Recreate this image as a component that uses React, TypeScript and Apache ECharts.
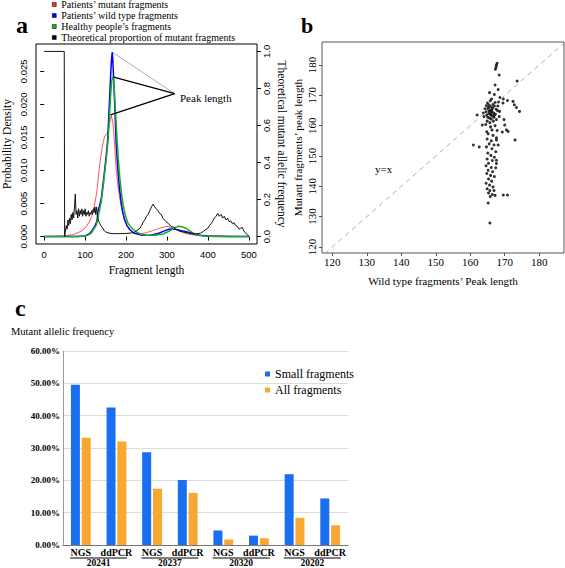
import React, { useEffect, useRef } from 'react';
import * as echarts from 'echarts';

const SERIF = '"Liberation Serif", "Times New Roman", serif';
const SANS = '"Liberation Sans", Arial, sans-serif';

// Panel a: probability densities [fragment length, density]
const mutantDensity: number[][] = [
  [0, 0], [50, 0.0001], [70, 0.0003], [90, 0.0008], [100, 0.0013], [110, 0.0022], [116, 0.003],
  [122, 0.0045], [128, 0.0065], [132, 0.0088], [136, 0.011], [140, 0.0128], [144, 0.0142],
  [148, 0.0152], [152, 0.0155], [156, 0.0158], [160, 0.0172], [164, 0.0183], [168, 0.0172],
  [172, 0.014], [176, 0.0102], [180, 0.0078], [184, 0.006], [190, 0.004], [196, 0.0025],
  [204, 0.0014], [212, 0.0008], [220, 0.0005], [235, 0.0004], [250, 0.0006], [265, 0.0009],
  [280, 0.0012], [292, 0.00145], [300, 0.00155], [310, 0.0014], [320, 0.0011], [335, 0.0007],
  [350, 0.0004], [370, 0.0002], [400, 0.0001], [450, 0.00005], [500, 0],
];
const wildDensity: number[][] = [
  [0, 0], [80, 0], [100, 0.0001], [110, 0.0004], [116, 0.0008], [120, 0.0012], [124, 0.0016],
  [128, 0.0022], [130, 0.0028], [132, 0.004], [136, 0.0048], [140, 0.006], [144, 0.008],
  [148, 0.0102], [152, 0.0125], [155, 0.0145], [158, 0.0185], [161, 0.0225], [163, 0.0252],
  [165, 0.0272], [166.5, 0.0279], [168, 0.0262], [170, 0.0235], [172, 0.0205], [174, 0.0172],
  [176, 0.014], [180, 0.0102], [184, 0.0073], [188, 0.0052], [192, 0.0037], [196, 0.0027],
  [202, 0.0017], [210, 0.001], [220, 0.0005], [240, 0.0002], [260, 0.0002], [280, 0.0005],
  [295, 0.0009], [305, 0.00112], [312, 0.00116], [320, 0.0011], [335, 0.0009], [350, 0.0007],
  [365, 0.0004], [380, 0.0002], [400, 0.0001], [450, 0], [500, 0],
];
const healthyDensity: number[][] = [
  [0, 0], [80, 0], [100, 0.0001], [110, 0.0003], [116, 0.0006], [120, 0.001], [124, 0.0014],
  [128, 0.0018], [130, 0.0024], [133, 0.0034], [136, 0.0042], [140, 0.0055], [144, 0.0075],
  [148, 0.0097], [152, 0.012], [156, 0.0145], [159, 0.0175], [162, 0.021], [165, 0.0235],
  [168, 0.0242], [170, 0.0235], [172, 0.0215], [175, 0.0182], [178, 0.0148], [181, 0.0118],
  [185, 0.0088], [189, 0.0065], [193, 0.0048], [198, 0.0033], [205, 0.002], [215, 0.0012],
  [225, 0.0007], [235, 0.0004], [250, 0.0002], [270, 0.0002], [290, 0.0004], [305, 0.0008],
  [318, 0.0013], [327, 0.00155], [335, 0.00152], [345, 0.0013], [355, 0.0009], [365, 0.0005],
  [375, 0.0002], [390, 0.0001], [420, 0], [500, 0],
];
// Theoretical proportion of mutant fragments [fragment length, proportion]
const theoreticalProportion: number[][] = [
  [0, 1], [49, 1], [50, 0], [52, 0.03], [54, 0.06], [56, 0.04], [58, 0.09], [60, 0.06], [62, 0.1],
  [64, 0.07], [66, 0.12], [68, 0.09], [70, 0.13], [72, 0.1], [74, 0.16], [76, 0.23], [78, 0.12],
  [80, 0.14], [82, 0.1], [84, 0.15], [86, 0.11], [88, 0.14], [90, 0.12], [92, 0.15], [94, 0.11],
  [96, 0.14], [98, 0.12], [100, 0.15], [102, 0.11], [104, 0.13], [106, 0.12], [108, 0.14],
  [110, 0.11], [112, 0.13], [114, 0.12], [116, 0.14], [118, 0.12], [120, 0.15], [122, 0.13],
  [124, 0.16], [126, 0.12], [128, 0.16], [130, 0.11], [132, 0.09], [134, 0.08], [136, 0.07],
  [138, 0.06], [142, 0.05], [146, 0.035], [150, 0.025], [156, 0.02], [166, 0.016], [180, 0.016],
  [200, 0.017], [215, 0.02], [222, 0.025], [228, 0.035], [234, 0.045], [238, 0.06], [242, 0.08],
  [246, 0.09], [250, 0.11], [254, 0.12], [258, 0.14], [262, 0.16], [266, 0.175], [270, 0.16],
  [274, 0.15], [278, 0.14], [282, 0.125], [286, 0.12], [290, 0.1], [294, 0.09], [298, 0.08],
  [304, 0.07], [310, 0.055], [316, 0.05], [322, 0.04], [330, 0.03], [340, 0.025], [350, 0.02],
  [360, 0.018], [372, 0.015], [382, 0.018], [390, 0.03], [396, 0.04], [400, 0.045], [404, 0.06],
  [408, 0.07], [412, 0.085], [416, 0.1], [420, 0.11], [424, 0.125], [428, 0.11], [432, 0.12],
  [436, 0.1], [440, 0.11], [444, 0.09], [448, 0.1], [452, 0.08], [456, 0.085], [460, 0.07],
  [464, 0.075], [468, 0.06], [472, 0.055], [476, 0.04], [480, 0.045], [484, 0.05], [488, 0.03],
  [492, 0.02], [496, 0.01], [500, 0.005],
];
const lengthTicks = [0, 100, 200, 300, 400, 500];
const densityTicks = [0, 0.005, 0.01, 0.015, 0.02, 0.025];
const proportionTicks = [0, 0.2, 0.4, 0.6, 0.8, 1];
// annotation: from each peak to the "Peak length" label point
const peakLabelPoint = [319, 0.0216];
const peakPoints: number[][] = [[166, 0.0279], [170, 0.0241], [162, 0.0184]];

// Panel b: [wild type peak length, mutant peak length]
const peakLengthPairs: number[][] = [
  [167.8, 180.6], [167.6, 180.0], [167.5, 179.3], [167.3, 178.6], [168.4, 176.7], [167.2, 173.4],
  [168.1, 171.9], [167.0, 170.3], [165.6, 170.9], [173.6, 174.7],
  [169.6, 168.8], [170.8, 168.3], [172.4, 168.0], [172.8, 166.9], [173.4, 166.0], [174.3, 164.7],
  [168.5, 164.7], [168.4, 163.0], [169.3, 157.9], [170.5, 158.6], [171.0, 158.1], [173.0, 155.3],
  [168.6, 169.3], [169.5, 167.5], [170.0, 160.2], [169.8, 162.0],
  [162.0, 163.5], [160.9, 153.6], [162.6, 153.0], [163.5, 160.2],
  [165.0, 167.5], [165.5, 166.8], [166.0, 166.2], [166.5, 165.8], [167.0, 166.5], [165.2, 165.5],
  [165.8, 165.0], [166.3, 164.6], [166.8, 164.2], [165.4, 164.0], [165.9, 163.6], [166.4, 163.2],
  [164.8, 163.5], [165.1, 162.8], [165.6, 162.5], [166.1, 162.2], [166.9, 162.8], [167.3, 163.8],
  [164.6, 164.6], [167.5, 165.4], [165.3, 166.0], [166.6, 167.0], [167.2, 167.6], [165.8, 168.2],
  [166.2, 168.8], [164.3, 165.6], [164.0, 163.0], [163.8, 164.2], [166.7, 161.5], [165.7, 161.0],
  [164.9, 161.5], [166.0, 164.0], [166.2, 165.2], [165.5, 164.8], [166.9, 163.4], [167.9, 165.0],
  [167.6, 162.0], [164.7, 166.6], [168.0, 166.5], [168.2, 167.8],
  [164.5, 160.4], [165.9, 159.6], [167.2, 160.0], [166.3, 158.6], [164.8, 158.0], [167.8, 158.4],
  [165.2, 157.3], [166.6, 156.8], [167.6, 156.0], [164.9, 155.6], [166.1, 155.0], [167.6, 155.3],
  [165.5, 154.0], [166.9, 153.6], [168.1, 153.6], [164.7, 153.0], [166.3, 152.4], [167.4, 151.4],
  [165.1, 151.0], [166.0, 150.2], [167.0, 149.6], [164.9, 149.0], [166.4, 148.5], [167.6, 148.6],
  [165.3, 147.6], [167.6, 147.5], [164.6, 146.8], [166.1, 146.2], [167.4, 146.1], [165.2, 145.3],
  [166.5, 144.8], [164.8, 144.2], [165.9, 143.6], [167.0, 143.2], [165.3, 142.4], [166.2, 141.7],
  [164.6, 141.0], [165.6, 140.4], [166.6, 139.8], [164.9, 139.2], [165.7, 138.6], [166.9, 138.6],
  [165.3, 137.8], [166.4, 137.3], [167.2, 137.0], [165.8, 136.6], [169.6, 137.1], [170.8, 137.1],
  [165.2, 134.5], [165.7, 127.9],
];
const identityLine: number[][] = [[110, 110], [195, 195]];
const peakTicks = [120, 130, 140, 150, 160, 170, 180];

// Panel c
const methodLabels = ['NGS', 'ddPCR', 'NGS', 'ddPCR', 'NGS', 'ddPCR', 'NGS', 'ddPCR'];
const sampleGroups = ['20241', '20237', '20320', '20202'];
const smallFragments = [49.6, 42.5, 28.7, 20.1, 4.5, 2.9, 21.9, 14.4];
const allFragments = [33.2, 32.0, 17.4, 16.1, 1.7, 2.1, 8.4, 6.1];

const legendA = [
  'Patients’ mutant fragments',
  'Patients’ wild type fragments',
  'Healthy people’s fragments',
  'Theoretical proportion of mutant fragments',
];

export default function App() {
  const ref = useRef<HTMLDivElement>(null);
  useEffect(() => {
    if (!ref.current) return;
    const chart = echarts.init(ref.current, null, { renderer: 'svg' });
    const axisTxt = { color: '#000' };
    const option: any = {
      animation: false,
      backgroundColor: '#fff',
      legend: [
        {
          data: legendA,
          orient: 'vertical',
          left: 52,
          top: -1,
          padding: 0,
          itemGap: 0,
          itemWidth: 4,
          itemHeight: 4,
          icon: 'rect',
          selectedMode: false,
          itemStyle: { borderColor: '#000', borderWidth: 0.5 },
          textStyle: { fontFamily: SERIF, fontSize: 10, lineHeight: 11, color: '#000' },
        },
        {
          data: ['Small fragments', 'All fragments'],
          orient: 'vertical',
          left: 265,
          top: 366,
          padding: 0,
          itemGap: 0,
          itemWidth: 5,
          itemHeight: 5,
          icon: 'rect',
          selectedMode: false,
          textStyle: { fontFamily: SERIF, fontSize: 12, lineHeight: 16, color: '#000' },
        },
      ],
      grid: [
        { left: 36, top: 44, width: 221, height: 200, show: true, borderColor: '#000', borderWidth: 1 },
        { left: 322, top: 42, width: 242, height: 211, show: true, borderColor: '#555', borderWidth: 1 },
        { left: 63, top: 351, width: 285, height: 195 },
      ],
      xAxis: [
        {
          gridIndex: 0, type: 'value', min: -20, max: 520,
          axisLine: { show: false },
          axisTick: { show: true, customValues: lengthTicks, length: 4, lineStyle: { color: '#000' } },
          axisLabel: { customValues: lengthTicks, margin: 5, fontSize: 9.5, fontFamily: SANS, ...axisTxt },
          splitLine: { show: false },
          name: 'Fragment length', nameLocation: 'middle', nameGap: 20,
          nameTextStyle: { fontFamily: SERIF, fontSize: 11.5, color: '#000' },
        },
        {
          gridIndex: 1, type: 'value', min: 117, max: 187.2,
          axisLine: { show: false },
          axisTick: { show: true, customValues: peakTicks, length: 3, lineStyle: { color: '#555' } },
          axisLabel: { customValues: peakTicks, margin: 3, fontSize: 11, fontFamily: SERIF, ...axisTxt },
          splitLine: { show: false },
          name: 'Wild type fragments’ Peak length', nameLocation: 'middle', nameGap: 22,
          nameTextStyle: { fontFamily: SERIF, fontSize: 11.2, color: '#000' },
        },
        {
          gridIndex: 2, type: 'category', data: methodLabels,
          axisLine: { show: true, lineStyle: { color: '#777' } },
          axisTick: { show: false },
          axisLabel: { interval: 0, margin: 2, fontSize: 10, fontWeight: 'bold', fontFamily: SERIF, ...axisTxt },
        },
        {
          gridIndex: 2, type: 'category', data: sampleGroups, position: 'bottom', offset: 13,
          axisLine: { show: false },
          axisTick: { show: false },
          axisLabel: { interval: 0, margin: 0, fontSize: 9.5, fontWeight: 'bold', fontFamily: SERIF, ...axisTxt },
        },
      ],
      yAxis: [
        {
          gridIndex: 0, type: 'value', min: -0.00112, max: 0.02912,
          axisLine: { show: false },
          axisTick: { show: true, customValues: densityTicks, length: 4, lineStyle: { color: '#000' } },
          axisLabel: {
            customValues: densityTicks, rotate: 90, margin: 8, fontSize: 9.5, fontFamily: SANS,
            formatter: (v: number) => v.toFixed(3), ...axisTxt,
          },
          splitLine: { show: false },
          name: 'Probability Density', nameLocation: 'middle', nameGap: 23, nameRotate: 90,
          nameTextStyle: { fontFamily: SERIF, fontSize: 11.5, color: '#000' },
        },
        {
          gridIndex: 0, type: 'value', position: 'right', min: -0.04, max: 1.04,
          axisLine: { show: false },
          axisTick: { show: true, customValues: proportionTicks, length: 4, lineStyle: { color: '#000' } },
          axisLabel: {
            customValues: proportionTicks, rotate: 90, margin: 4, fontSize: 9.5, fontFamily: SANS,
            formatter: (v: number) => v.toFixed(1), ...axisTxt,
          },
          splitLine: { show: false },
          name: 'Theoretical mutant allelic frequency', nameLocation: 'middle', nameGap: 19, nameRotate: -90,
          nameTextStyle: { fontFamily: SERIF, fontSize: 11.5, color: '#000' },
        },
        {
          gridIndex: 1, type: 'value', min: 118, max: 187.6,
          axisLine: { show: false },
          axisTick: { show: true, customValues: peakTicks, length: 3, lineStyle: { color: '#555' } },
          axisLabel: { customValues: peakTicks, rotate: 90, margin: 5, fontSize: 11, fontFamily: SERIF, ...axisTxt },
          splitLine: { show: false },
          name: 'Mutant fragments’ peak length', nameLocation: 'middle', nameGap: 19, nameRotate: 90,
          nameTextStyle: { fontFamily: SERIF, fontSize: 11.2, color: '#000' },
        },
        {
          gridIndex: 2, type: 'value', min: 0, max: 60, interval: 10,
          axisLine: { show: true, lineStyle: { color: '#999' } },
          axisTick: { show: false },
          axisLabel: {
            margin: 3, fontSize: 9, fontWeight: 'bold', fontFamily: SERIF,
            formatter: (v: number) => v.toFixed(2) + '%', ...axisTxt,
          },
          splitLine: { show: true, lineStyle: { color: '#dcdcdc' } },
        },
      ],
      series: [
        {
          name: legendA[0], type: 'line', xAxisIndex: 0, yAxisIndex: 0, data: mutantDensity,
          showSymbol: false, color: '#ff2a2a', lineStyle: { width: 0.8, color: '#ff2a2a' },
          markLine: {
            silent: true, symbol: ['none', 'none'], label: { show: false }, animation: false,
            data: peakPoints.map((p, i) => [
              { coord: p, lineStyle: { color: i === 0 ? '#8a8a8a' : '#000', width: i === 0 ? 0.7 : 1.3, type: 'solid' } },
              { coord: peakLabelPoint },
            ]),
          },
        },
        {
          name: legendA[1], type: 'line', xAxisIndex: 0, yAxisIndex: 0, data: wildDensity,
          showSymbol: false, color: '#0000ff', lineStyle: { width: 1.5, color: '#0000ff' },
        },
        {
          name: legendA[2], type: 'line', xAxisIndex: 0, yAxisIndex: 0, data: healthyDensity,
          showSymbol: false, color: '#1cae1c', lineStyle: { width: 1.5, color: '#1cae1c' },
        },
        {
          name: legendA[3], type: 'line', xAxisIndex: 0, yAxisIndex: 1, data: theoreticalProportion,
          showSymbol: false, color: '#000', lineStyle: { width: 1, color: '#111' },
        },
        {
          type: 'line', xAxisIndex: 1, yAxisIndex: 2, data: identityLine, showSymbol: false, clip: true,
          lineStyle: { width: 0.8, color: '#999', type: [5, 4] }, silent: true,
        },
        {
          type: 'scatter', xAxisIndex: 1, yAxisIndex: 2, data: peakLengthPairs,
          symbol: 'circle', symbolSize: 3, itemStyle: { color: '#000' },
        },
        {
          name: 'Small fragments', type: 'bar', xAxisIndex: 2, yAxisIndex: 3, data: smallFragments,
          barWidth: 9, barGap: '20%', itemStyle: { color: '#1a6ff0' }, color: '#1a6ff0',
        },
        {
          name: 'All fragments', type: 'bar', xAxisIndex: 2, yAxisIndex: 3, data: allFragments,
          barWidth: 9, barGap: '20%', itemStyle: { color: '#f8a830' }, color: '#f8a830',
        },
      ],
    };
    chart.setOption(option);

    const graphics: any[] = [
      { type: 'text', x: 16, y: 25, style: { text: 'a', font: `bold 24px ${SERIF}`, fill: '#000', textVerticalAlign: 'middle' } },
      { type: 'text', x: 301, y: 25, style: { text: 'b', font: `bold 22px ${SERIF}`, fill: '#000', textVerticalAlign: 'middle' } },
      { type: 'text', x: 15, y: 308, style: { text: 'c', font: `bold 24px ${SERIF}`, fill: '#000', textVerticalAlign: 'middle' } },
      { type: 'text', x: 180, y: 97.5, style: { text: 'Peak length', font: `11px ${SERIF}`, fill: '#000', textVerticalAlign: 'middle' } },
      { type: 'text', x: 375, y: 169, style: { text: 'y=x', font: `11px ${SERIF}`, fill: '#000', textVerticalAlign: 'middle' } },
      { type: 'text', x: 11, y: 331.5, style: { text: 'Mutant allelic frequency', font: `10.5px ${SERIF}`, fill: '#000', textVerticalAlign: 'middle' } },
    ];
    sampleGroups.forEach((_, i) => {
      const a = chart.convertToPixel({ xAxisIndex: 2 } as any, 2 * i) as unknown as number;
      const b = chart.convertToPixel({ xAxisIndex: 2 } as any, 2 * i + 1) as unknown as number;
      const ext = (b - a) * 0.3;
      graphics.push({
        type: 'line', shape: { x1: a - ext, y1: 558, x2: b + ext, y2: 558 },
        style: { stroke: '#000', lineWidth: 1 },
      });
    });
    chart.setOption({ graphic: graphics });

    return () => chart.dispose();
  }, []);
  return (
    <div
      ref={ref}
      style={{ position: 'absolute', left: 0, top: 0, width: 565, height: 568, background: '#fff' }}
    />
  );
}
